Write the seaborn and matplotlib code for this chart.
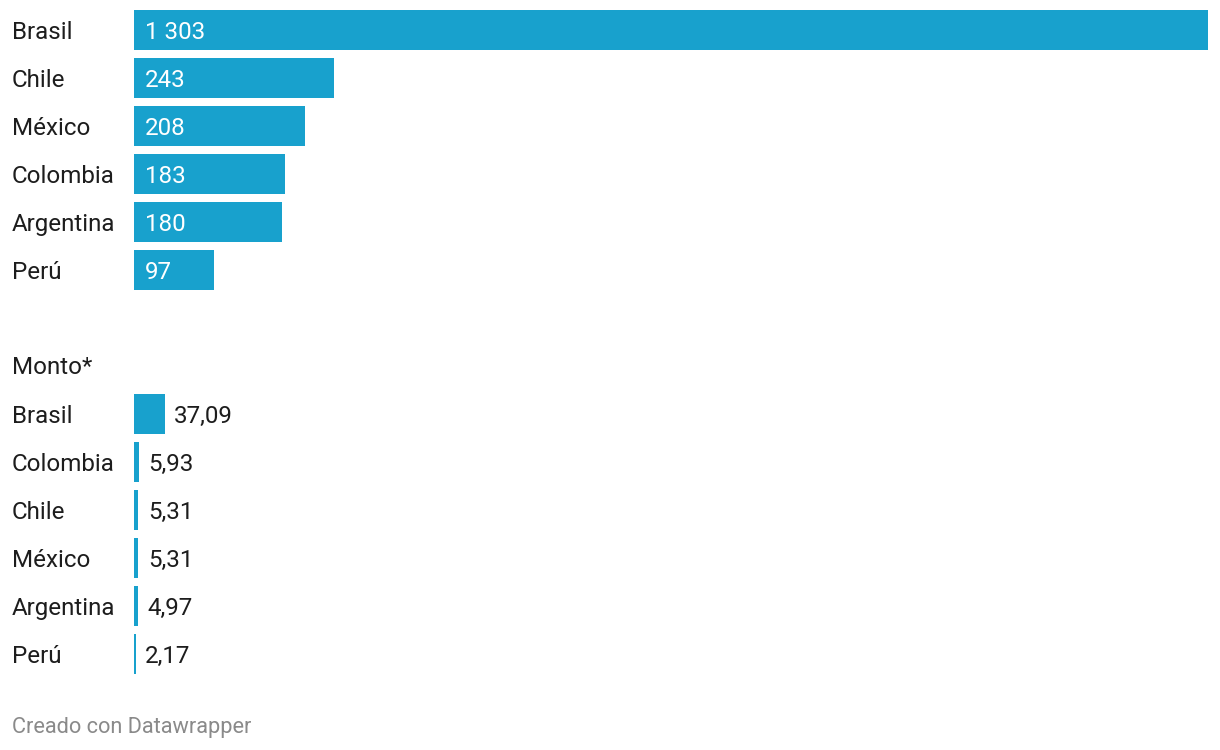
#!/usr/bin/env python3
# Horizontal bar chart in Datawrapper style: count by country and amount (Monto*)
import matplotlib
matplotlib.use("Agg")
import matplotlib.pyplot as plt
import matplotlib.transforms as mtransforms
import seaborn as sns

# DATA
top_countries = ["Brasil", "Chile", "México", "Colombia", "Argentina", "Perú"]
top_values = [1303, 243, 208, 183, 180, 97]

monto_title = "Monto*"
monto_countries = ["Brasil", "Colombia", "Chile", "México", "Argentina", "Perú"]
monto_values = [37.09, 5.93, 5.31, 5.31, 4.97, 2.17]

footer = "Creado con Datawrapper"

BAR_COLOR = "#18a1cd"
TEXT_COLOR = "#1d1d1d"
FONT = ["Roboto", "DejaVu Sans"]
FS = 17.4
DY = -1.6  # points, nudges text down to sit like the reference


def fmt_int(v):
    return f"{v:,}".replace(",", " ")


def fmt_dec(v):
    return f"{v:.2f}".replace(".", ",")


def main():
    sns.set_theme(style="white")
    plt.rcParams["font.family"] = FONT

    W, H = 1220, 750
    fig = plt.figure(figsize=(W / 100, H / 100), dpi=100)

    left = 134 / W
    width = 1074 / W
    ax_top = fig.add_axes([left, 1 - 294 / H, width, 288 / H])
    ax_bot = fig.add_axes([left, 1 - 678 / H, width, 288 / H])

    xmax = max(top_values)
    for ax, cats, vals in [(ax_top, top_countries, top_values),
                           (ax_bot, monto_countries, monto_values)]:
        sns.barplot(x=vals, y=list(range(len(cats))), orient="h",
                    color=BAR_COLOR, width=40 / 48, saturation=1,
                    linewidth=0, ax=ax)
        ax.set_xlim(0, xmax)
        ax.set_ylim(len(cats) - 0.5, -0.5)
        ax.axis("off")
        trans = mtransforms.blended_transform_factory(fig.transFigure, ax.transData)
        for i, name in enumerate(cats):
            ax.annotate(name, xy=(12 / W, i), xycoords=trans,
                        xytext=(0, DY), textcoords="offset points",
                        ha="left", va="center", fontsize=FS, color=TEXT_COLOR)

    # value labels: inside bars on top, outside on bottom
    for i, v in enumerate(top_values):
        ax_top.annotate(fmt_int(v), xy=(0, i), xytext=(11 * 0.72, DY),
                        textcoords="offset points", ha="left", va="center",
                        fontsize=FS, color="white")
    for i, v in enumerate(monto_values):
        ax_bot.annotate(fmt_dec(v), xy=(v, i), xytext=(9.5 * 0.72, DY),
                        textcoords="offset points", ha="left", va="center",
                        fontsize=FS, color=TEXT_COLOR)

    fig.text(12 / W, 1 - 368 / H, monto_title, ha="left", va="center",
             fontsize=FS, color=TEXT_COLOR)
    fig.text(12 / W, 1 - 728 / H, footer, ha="left", va="center",
             fontsize=15.7, color="#8a8a8a")

    fig.savefig("out.png", dpi=100, facecolor="white")


if __name__ == "__main__":
    main()
